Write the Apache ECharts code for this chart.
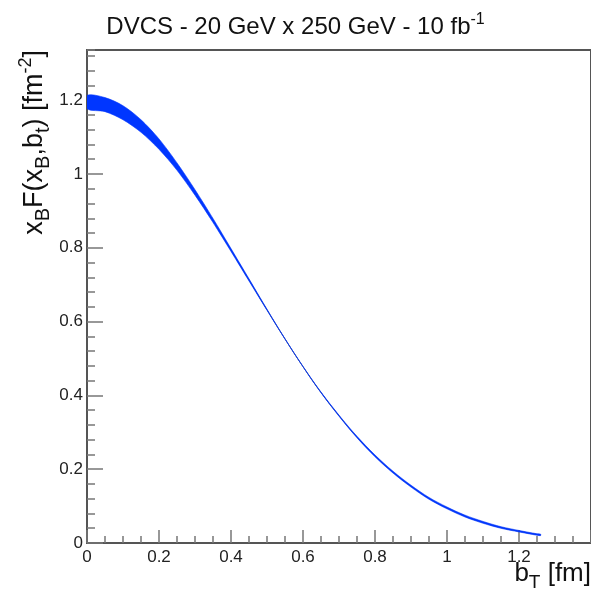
<!DOCTYPE html>
<html>
<head>
<meta charset="utf-8">
<script src="https://cdn.jsdelivr.net/npm/echarts@6/dist/echarts.min.js"></script>
<style>
html,body{margin:0;padding:0;background:#fff;}
#chart{width:591px;height:601px;}
</style>
</head>
<body>
<div id="chart"></div>
<script>
// b_T values [fm]
var bT = [0, 0.05, 0.1, 0.15, 0.2, 0.25, 0.3, 0.35, 0.4, 0.45, 0.5, 0.55, 0.6, 0.65, 0.7,
          0.75, 0.8, 0.85, 0.9, 0.95, 1.0, 1.05, 1.1, 1.15, 1.2, 1.25, 1.26];
// central value of x_B F(x_B, b_t) [fm^-2]
var central = [1.195, 1.188, 1.166, 1.130, 1.081, 1.020, 0.950, 0.874, 0.794, 0.713, 0.632,
               0.553, 0.478, 0.408, 0.345, 0.287, 0.236, 0.192, 0.154, 0.121, 0.095, 0.073,
               0.056, 0.042, 0.032, 0.023, 0.022];
// half width of the uncertainty band
var halfWidth = [0.018, 0.019, 0.019, 0.017, 0.014, 0.010, 0.0075, 0.0055, 0.004, 0.003, 0.0015,
                 0.0005, 0.0005, 0.001, 0.0015, 0.002, 0.0025, 0.0025, 0.0025, 0.0025, 0.0025,
                 0.0025, 0.0025, 0.0022, 0.002, 0.002, 0.002];
var xTicks = [0, 0.2, 0.4, 0.6, 0.8, 1, 1.2];
var yTicks = [0, 0.2, 0.4, 0.6, 0.8, 1, 1.2];

var centralData = bT.map(function (b, i) { return [b, central[i]]; });

var FONT = '"Liberation Sans", Arial, Helvetica, sans-serif';
var AXIS_COLOR = '#555';
var TICK_COLOR = '#777';
var BLUE = '#0036ff';

function tickFormatter(list) {
  return function (v) {
    for (var i = 0; i < list.length; i++) { if (Math.abs(list[i] - v) < 1e-6) return String(list[i]); }
    return '';
  };
}

var chart = echarts.init(document.getElementById('chart'), null, {renderer: 'canvas'});
chart.setOption({
  animation: false,
  backgroundColor: '#fff',
  textStyle: {fontFamily: FONT},
  title: {
    text: '{m|DVCS - 20 GeV x 250 GeV - 10 fb}{p|-1}',
    left: 'center',
    top: 12,
    padding: 0,
    textStyle: {
      fontWeight: 'normal',
      rich: {
        m: {fontFamily: FONT, fontSize: 24, fontWeight: 'normal', lineHeight: 30, color: '#111', verticalAlign: 'middle'},
        p: {fontFamily: FONT, fontSize: 16, fontWeight: 'normal', lineHeight: 24, color: '#111', verticalAlign: 'top'}
      }
    }
  },
  grid: {left: 87, top: 50, width: 510, height: 493, show: true, borderColor: AXIS_COLOR, borderWidth: 2, backgroundColor: 'transparent'},
  xAxis: {
    type: 'value', min: 0, max: 1.4, interval: 0.2,
    axisLine: {show: true, onZero: false, lineStyle: {color: AXIS_COLOR, width: 2}},
    axisTick: {show: true, inside: true, length: 13, lineStyle: {color: TICK_COLOR, width: 1.5}},
    minorTick: {show: true, splitNumber: 4, length: 7, lineStyle: {color: TICK_COLOR, width: 1.5}},
    splitLine: {show: false},
    axisLabel: {fontFamily: FONT, fontSize: 17, color: '#222', margin: 6, showMaxLabel: false, formatter: tickFormatter(xTicks)}
  },
  yAxis: [{
    type: 'value', min: 0, max: 1.336, interval: 0.04, position: 'left',
    axisLine: {show: false},
    axisTick: {show: true, inside: true, length: 8, lineStyle: {color: TICK_COLOR, width: 1.5}},
    splitLine: {show: false},
    axisLabel: {show: false}
  }, {
    type: 'value', min: 0, max: 1.336, interval: 0.2, position: 'left', offset: 0,
    axisLine: {show: true, onZero: false, lineStyle: {color: AXIS_COLOR, width: 2}},
    axisTick: {show: true, inside: true, length: 16, lineStyle: {color: TICK_COLOR, width: 1.5}},
    splitLine: {show: false},
    axisLabel: {fontFamily: FONT, fontSize: 17, color: '#222', margin: 4, showMaxLabel: false, formatter: tickFormatter(yTicks)}
  }],
  series: [{
    type: 'line', name: 'central', yAxisIndex: 1, data: centralData, smooth: true,
    showSymbol: false, z: 1, lineStyle: {color: '#555', width: 1}
  }, {
    type: 'custom', name: 'band', yAxisIndex: 1, data: centralData, z: 2, clip: true,
    encode: {x: 0, y: 1},
    renderItem: function (params, api) {
      if (params.dataIndex !== 0) return null;
      var pts = [];
      var i;
      for (i = 0; i < bT.length; i++) pts.push(api.coord([bT[i], central[i] + halfWidth[i]]));
      for (i = bT.length - 1; i >= 0; i--) pts.push(api.coord([bT[i], central[i] - halfWidth[i]]));
      return {
        type: 'polygon',
        shape: {points: pts, smooth: 0.3},
        style: {fill: BLUE, stroke: BLUE, lineWidth: 0.6}
      };
    }
  }],
  graphic: [{
    type: 'text', x: 35, y: 50, rotation: Math.PI / 2,
    style: {
      text: '{m|x}{s|B}{m|F(x}{s|B}{m|,b}{s|t}{m|) [fm}{p|-2}{m|]}',
      align: 'right', verticalAlign: 'middle',
      rich: {
        m: {fontFamily: FONT, fontSize: 27, lineHeight: 36, fill: '#111', verticalAlign: 'middle'},
        s: {fontFamily: FONT, fontSize: 20, lineHeight: 15, fill: '#111', verticalAlign: 'bottom'},
        p: {fontFamily: FONT, fontSize: 18, lineHeight: 18, fill: '#111', verticalAlign: 'top'}
      }
    }
  }, {
    type: 'text', x: 591, y: 574,
    style: {
      text: '{m|b}{s|T}{m| [fm]}',
      align: 'right', verticalAlign: 'middle',
      rich: {
        m: {fontFamily: FONT, fontSize: 26, lineHeight: 36, fill: '#111', verticalAlign: 'middle'},
        s: {fontFamily: FONT, fontSize: 19, lineHeight: 15, fill: '#111', verticalAlign: 'bottom'}
      }
    }
  }]
});
</script>
</body>
</html>
